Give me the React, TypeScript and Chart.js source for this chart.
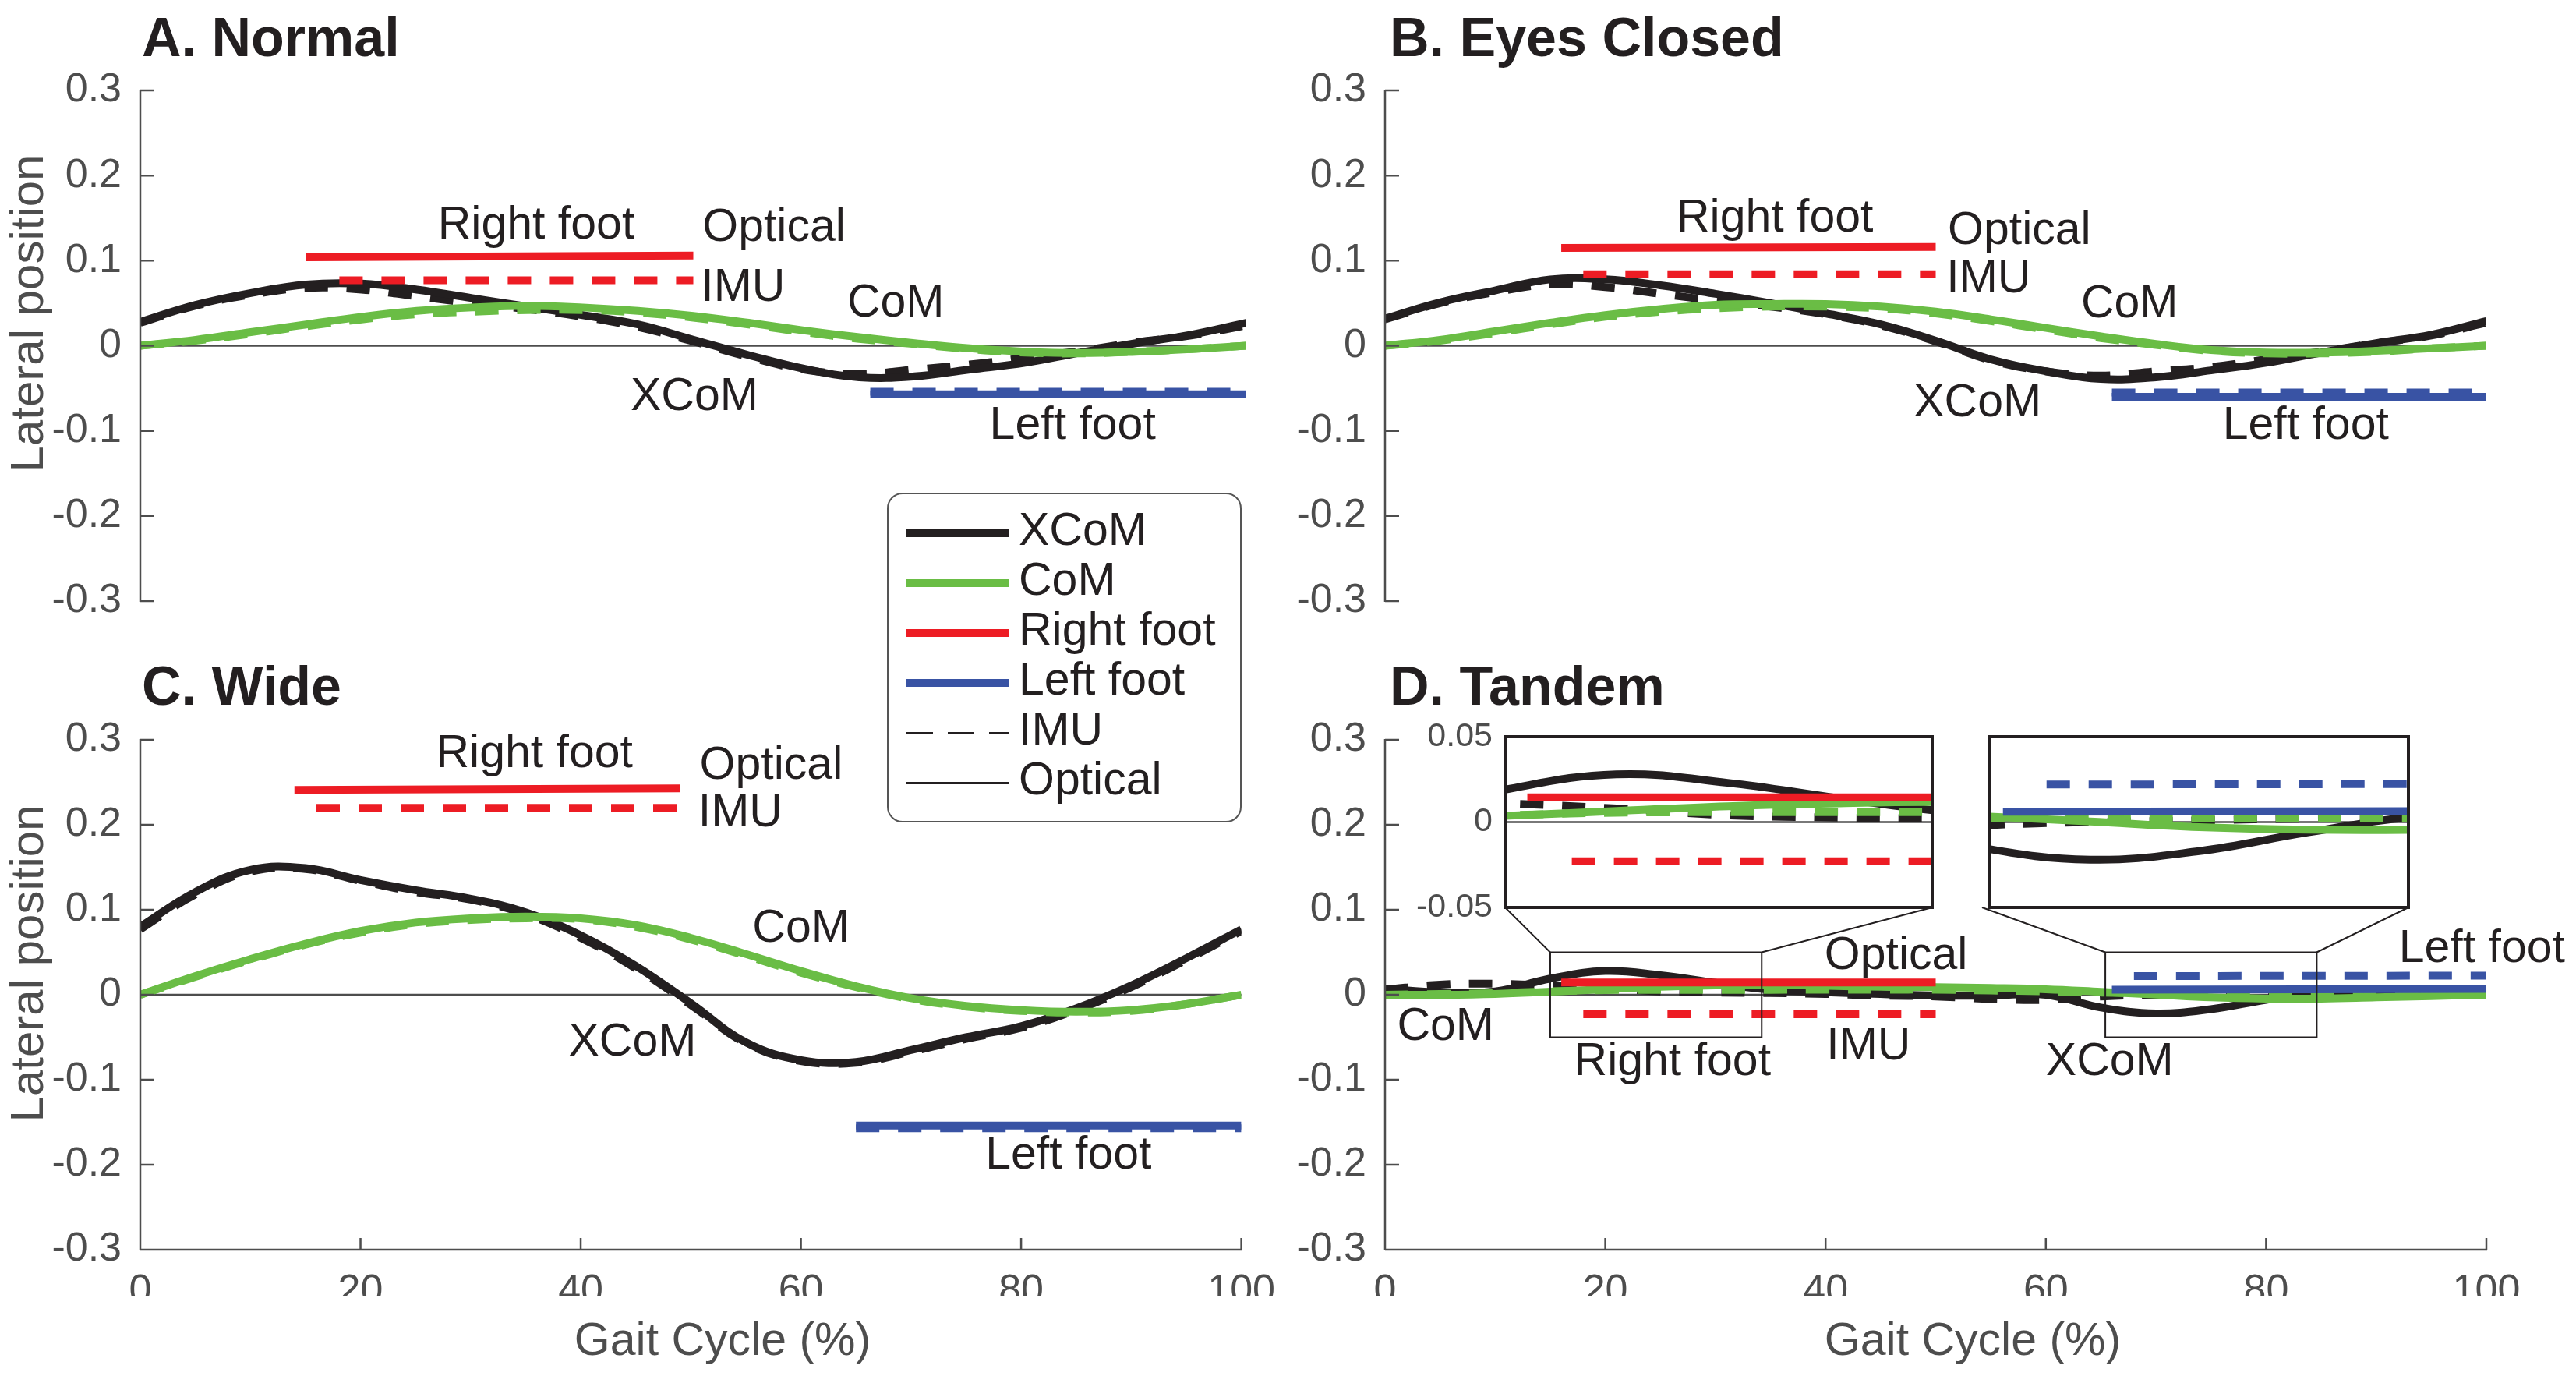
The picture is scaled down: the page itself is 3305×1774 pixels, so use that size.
import React, { useEffect, useRef } from 'react';
import { Chart, registerables } from 'chart.js';

Chart.register(...registerables);

const FONT = '"Liberation Sans", Arial, Helvetica, sans-serif';
const BLACK = '#231f20';
const GREEN = '#6abd45';
const RED = '#ed1c24';
const BLUE = '#3953a4';
const AXIS = '#4d4d4d';
const LINE_W = 10;
const DASH = [30, 24];

// ---- data ----
const gaitPct = [0, 5, 10, 15, 20, 25, 30, 35, 40, 45, 50, 55, 60, 65, 70, 75, 80, 85, 90, 95, 100];

// A. Normal
const xcomOpticalA = [0.028, 0.048, 0.062, 0.072, 0.073, 0.066, 0.056, 0.046, 0.036, 0.025, 0.007, -0.011, -0.027, -0.037, -0.036, -0.028, -0.020, -0.008, 0.003, 0.013, 0.027];
const xcomImuA = [0.027, 0.047, 0.060, 0.068, 0.066, 0.058, 0.050, 0.043, 0.034, 0.022, 0.005, -0.013, -0.028, -0.033, -0.028, -0.022, -0.014, -0.006, 0.004, 0.012, 0.024];
const comOpticalA = [0, 0.007, 0.016, 0.025, 0.034, 0.041, 0.045, 0.047, 0.045, 0.041, 0.035, 0.027, 0.018, 0.010, 0.003, -0.003, -0.007, -0.0085, -0.007, -0.004, 0];
const comImuA = [0, 0.006, 0.014, 0.023, 0.031, 0.037, 0.040, 0.042, 0.042, 0.039, 0.033, 0.025, 0.016, 0.008, 0.002, -0.004, -0.008, -0.009, -0.007, -0.004, 0];
const rightFootOpticalA = [[15, 0.104], [50, 0.106]];
const rightFootImuA = [[18, 0.077], [50, 0.077]];
const leftFootOpticalA = [[66, -0.057], [100, -0.057]];
const leftFootImuA = [[66, -0.054], [100, -0.054]];

// B. Eyes Closed
const xcomOpticalB = [0.032, 0.051, 0.065, 0.078, 0.078, 0.071, 0.061, 0.050, 0.038, 0.025, 0.006, -0.016, -0.030, -0.039, -0.037, -0.029, -0.020, -0.008, 0.003, 0.013, 0.029];
const xcomImuB = [0.031, 0.050, 0.063, 0.072, 0.069, 0.061, 0.053, 0.046, 0.037, 0.024, 0.005, -0.017, -0.030, -0.035, -0.030, -0.025, -0.016, -0.007, 0.003, 0.012, 0.027];
const comOpticalB = [0, 0.007, 0.017, 0.027, 0.036, 0.043, 0.048, 0.049, 0.049, 0.046, 0.040, 0.031, 0.021, 0.011, 0.002, -0.005, -0.008, -0.008, -0.006, -0.003, 0];
const comImuB = [0, 0.006, 0.015, 0.025, 0.034, 0.040, 0.044, 0.046, 0.046, 0.044, 0.038, 0.029, 0.019, 0.009, 0.001, -0.006, -0.009, -0.009, -0.007, -0.003, 0];
const rightFootOpticalB = [[16, 0.115], [50, 0.116]];
const rightFootImuB = [[18, 0.084], [50, 0.084]];
const leftFootOpticalB = [[66, -0.060], [100, -0.060]];
const leftFootImuB = [[66, -0.055], [100, -0.055]];

// C. Wide
const xcomOpticalC = [0.080, 0.121, 0.147, 0.149, 0.135, 0.123, 0.113, 0.097, 0.070, 0.034, -0.010, -0.056, -0.077, -0.079, -0.065, -0.050, -0.037, -0.016, 0.011, 0.043, 0.077];
const xcomImuC = [0.077, 0.118, 0.145, 0.148, 0.134, 0.121, 0.112, 0.095, 0.067, 0.031, -0.012, -0.057, -0.078, -0.080, -0.067, -0.052, -0.039, -0.018, 0.009, 0.041, 0.075];
const comOpticalC = [0, 0.022, 0.042, 0.060, 0.075, 0.085, 0.090, 0.092, 0.090, 0.082, 0.067, 0.048, 0.028, 0.010, -0.004, -0.013, -0.018, -0.020, -0.018, -0.011, 0];
const comImuC = [0, 0.021, 0.041, 0.059, 0.073, 0.083, 0.088, 0.090, 0.089, 0.080, 0.065, 0.046, 0.026, 0.009, -0.005, -0.014, -0.019, -0.021, -0.019, -0.011, 0];
const rightFootOpticalC = [[14, 0.241], [49, 0.243]];
const rightFootImuC = [[16, 0.220], [50, 0.220]];
const leftFootOpticalC = [[65, -0.154], [100, -0.154]];
const leftFootImuC = [[65, -0.157], [100, -0.157]];

// D. Tandem
const xcomOpticalD = [0.007, 0.003, 0.004, 0.019, 0.028, 0.023, 0.014, 0.006, 0.003, 0.001, -0.001, -0.001, 0.000, -0.015, -0.022, -0.017, -0.006, 0.003, 0.003, 0.002, 0.002];
const xcomImuD = [0.006, 0.012, 0.013, 0.011, 0.008, 0.004, 0.0026, 0.002, 0.001, -0.001, -0.002, -0.005, -0.006, -0.002, 0.000, 0.001, 0.002, 0.002, 0.002, 0.002, 0.002];
const comOpticalD = [0, 0, 0.001, 0.0036, 0.0065, 0.0093, 0.011, 0.0117, 0.0105, 0.0095, 0.009, 0.008, 0.0065, 0.0035, 0.0003, -0.003, -0.0045, -0.0045, -0.003, -0.0015, 0];
const comImuD = [0, 0.001, 0.002, 0.004, 0.0055, 0.0058, 0.0058, 0.0058, 0.006, 0.006, 0.006, 0.005, 0.004, 0.0025, 0.002, 0.002, 0.002, 0.002, 0.001, 0.0005, 0];
const rightFootOpticalD = [[16, 0.0145], [50, 0.0145]];
const rightFootImuD = [[18, -0.023], [50, -0.023]];
const leftFootOpticalD = [[66, 0.006], [100, 0.0068]];
const leftFootImuD = [[68, 0.022], [100, 0.0225]];

// zoomed ranges of the two insets in panel D (gait %, lateral position)
const insetRangesX = [[15, 34.2], [65.4, 84.6]];
const insetRangeY = [-0.05, 0.05];

// ---- layout ----
type Box = { left: number; top: number; right: number; bottom: number };
type Rect = { left: number; top: number; width: number; height: number };
type Label = { text: string; x: number; y: number };
type Series = {
  xcomOpt: number[]; xcomImu: number[]; comOpt: number[]; comImu: number[];
  rfOpt: number[][]; rfImu: number[][]; lfOpt: number[][]; lfImu: number[][];
};
type PanelSpec = {
  id: string; canvas: Rect; area: Box; title: string; titleAt: [number, number];
  ylabelAt?: [number, number]; xlabelAt?: [number, number]; showX: boolean;
  series: Series; labels: Label[]; zoomBoxes?: boolean;
};

const insetBoxes: Box[] = [
  { left: 1931, top: 945, right: 2479, bottom: 1164 },
  { left: 2543, top: 945, right: 3090, bottom: 1164 },
];

const panels: PanelSpec[] = [
  {
    id: 'A', canvas: { left: 0, top: 0, width: 1650, height: 860 },
    area: { left: 180, top: 116, right: 1599, bottom: 771 },
    title: 'A. Normal', titleAt: [182, 53], ylabelAt: [38, 402], showX: false,
    series: { xcomOpt: xcomOpticalA, xcomImu: xcomImuA, comOpt: comOpticalA, comImu: comImuA, rfOpt: rightFootOpticalA, rfImu: rightFootImuA, lfOpt: leftFootOpticalA, lfImu: leftFootImuA },
    labels: [
      { text: 'Right foot', x: 35.8, y: 0.141 }, { text: 'Optical', x: 57.3, y: 0.138 },
      { text: 'IMU', x: 54.5, y: 0.068 }, { text: 'CoM', x: 68.3, y: 0.049 },
      { text: 'XCoM', x: 50.1, y: -0.061 }, { text: 'Left foot', x: 84.3, y: -0.095 },
    ],
  },
  {
    id: 'B', canvas: { left: 1650, top: 0, width: 1655, height: 860 },
    area: { left: 1777, top: 116, right: 3190, bottom: 771 },
    title: 'B. Eyes Closed', titleAt: [1783, 53], showX: false,
    series: { xcomOpt: xcomOpticalB, xcomImu: xcomImuB, comOpt: comOpticalB, comImu: comImuB, rfOpt: rightFootOpticalB, rfImu: rightFootImuB, lfOpt: leftFootOpticalB, lfImu: leftFootImuB },
    labels: [
      { text: 'Right foot', x: 35.4, y: 0.149 }, { text: 'Optical', x: 57.6, y: 0.134 },
      { text: 'IMU', x: 54.8, y: 0.078 }, { text: 'CoM', x: 67.6, y: 0.048 },
      { text: 'XCoM', x: 53.8, y: -0.068 }, { text: 'Left foot', x: 83.6, y: -0.095 },
    ],
  },
  {
    id: 'C', canvas: { left: 0, top: 800, width: 1650, height: 974 },
    area: { left: 180, top: 949, right: 1599, bottom: 1603 },
    title: 'C. Wide', titleAt: [182, 885], ylabelAt: [38, 1236], xlabelAt: [927, 1722], showX: true,
    series: { xcomOpt: xcomOpticalC, xcomImu: xcomImuC, comOpt: comOpticalC, comImu: comImuC, rfOpt: rightFootOpticalC, rfImu: rightFootImuC, lfOpt: leftFootOpticalC, lfImu: leftFootImuC },
    labels: [
      { text: 'Right foot', x: 35.8, y: 0.283 }, { text: 'Optical', x: 57.3, y: 0.269 },
      { text: 'IMU', x: 54.5, y: 0.213 }, { text: 'CoM', x: 60.0, y: 0.077 },
      { text: 'XCoM', x: 44.7, y: -0.057 }, { text: 'Left foot', x: 84.3, y: -0.190 },
    ],
  },
  {
    id: 'D', canvas: { left: 1650, top: 800, width: 1655, height: 974 },
    area: { left: 1777, top: 949, right: 3190, bottom: 1603 },
    title: 'D. Tandem', titleAt: [1783, 885], xlabelAt: [2531, 1722], showX: true, zoomBoxes: true,
    series: { xcomOpt: xcomOpticalD, xcomImu: xcomImuD, comOpt: comOpticalD, comImu: comImuD, rfOpt: rightFootOpticalD, rfImu: rightFootImuD, lfOpt: leftFootOpticalD, lfImu: leftFootImuD },
    labels: [
      { text: 'CoM', x: 5.5, y: -0.0385 }, { text: 'Right foot', x: 26.1, y: -0.080 },
      { text: 'IMU', x: 43.9, y: -0.061 }, { text: 'Optical', x: 46.4, y: 0.045 },
      { text: 'XCoM', x: 65.8, y: -0.080 }, { text: 'Left foot', x: 99.6, y: 0.053 },
    ],
  },
];

const insetCanvases: Rect[] = [
  { left: 1800, top: 900, width: 690, height: 300 },
  { left: 2533, top: 934, width: 567, height: 240 },
];

const legendItems = [
  { label: 'XCoM', color: BLACK, thick: true, dashed: false },
  { label: 'CoM', color: GREEN, thick: true, dashed: false },
  { label: 'Right foot', color: RED, thick: true, dashed: false },
  { label: 'Left foot', color: BLUE, thick: true, dashed: false },
  { label: 'IMU', color: BLACK, thick: false, dashed: true },
  { label: 'Optical', color: BLACK, thick: false, dashed: false },
];

// ---- datasets ----
function curve(vals: number[], color: string, dashed: boolean, label: string) {
  return {
    label, data: gaitPct.map((x, i) => ({ x, y: vals[i] })),
    borderColor: color, backgroundColor: color, borderWidth: LINE_W,
    borderDash: dashed ? DASH : [], pointRadius: 0, pointHoverRadius: 0,
    tension: 0.4, fill: false,
  } as any;
}
function seg(pts: number[][], color: string, dashed: boolean, label: string) {
  return {
    label, data: pts.map(([x, y]) => ({ x, y })),
    borderColor: color, backgroundColor: color, borderWidth: LINE_W,
    borderDash: dashed ? DASH : [], pointRadius: 0, pointHoverRadius: 0,
    tension: 0, fill: false,
  } as any;
}
function datasetsFor(s: Series, clip?: number) {
  const list = [
    seg(s.rfOpt, RED, false, 'Right foot Optical'),
    seg(s.rfImu, RED, true, 'Right foot IMU'),
    seg(s.lfOpt, BLUE, false, 'Left foot Optical'),
    seg(s.lfImu, BLUE, true, 'Left foot IMU'),
    curve(s.comOpt, GREEN, false, 'CoM Optical'),
    curve(s.comImu, GREEN, true, 'CoM IMU'),
    curve(s.xcomOpt, BLACK, false, 'XCoM Optical'),
    curve(s.xcomImu, BLACK, true, 'XCoM IMU'),
  ];
  if (clip !== undefined) list.forEach((d) => { d.clip = clip; });
  return list;
}

const fmtTick = (v: any) => {
  const n = Math.round(Number(v) * 1000) / 1000;
  return n === 0 ? '0' : String(n);
};

function mainConfig(p: PanelSpec) {
  const cl = p.canvas.left, ct = p.canvas.top;
  const a = { left: p.area.left - cl, top: p.area.top - ct, right: p.area.right - cl, bottom: p.area.bottom - ct };
  const xAxisH = 60;
  const decor = {
    id: 'decor' + p.id,
    beforeDatasetsDraw(chart: any) {
      const { ctx } = chart;
      const x = chart.scales.x, y = chart.scales.y;
      ctx.save();
      ctx.strokeStyle = AXIS;
      ctx.lineWidth = 2.5;
      ctx.beginPath();
      ctx.moveTo(x.getPixelForValue(0), y.getPixelForValue(0));
      ctx.lineTo(x.getPixelForValue(100), y.getPixelForValue(0));
      ctx.stroke();
      ctx.restore();
    },
    afterDatasetsDraw(chart: any) {
      const { ctx, chartArea } = chart;
      const x = chart.scales.x, y = chart.scales.y;
      const { left, right, top, bottom } = chartArea;
      ctx.save();
      ctx.strokeStyle = AXIS;
      ctx.lineWidth = 2.5;
      ctx.beginPath();
      ctx.moveTo(left, top - 1);
      ctx.lineTo(left, bottom + 1);
      y.ticks.forEach((t: any) => {
        const py = y.getPixelForValue(t.value);
        ctx.moveTo(left, py);
        ctx.lineTo(left + 18, py);
      });
      if (p.showX) {
        ctx.moveTo(left, bottom);
        ctx.lineTo(right + 1, bottom);
        x.ticks.forEach((t: any) => {
          const px = x.getPixelForValue(t.value);
          ctx.moveTo(px, bottom);
          ctx.lineTo(px, bottom - 15);
        });
      }
      ctx.stroke();

      if (p.zoomBoxes) {
        ctx.strokeStyle = BLACK;
        ctx.lineWidth = 2;
        insetRangesX.forEach((r, i) => {
          const x0 = x.getPixelForValue(r[0]), x1 = x.getPixelForValue(r[1]);
          const y0 = y.getPixelForValue(insetRangeY[1]), y1 = y.getPixelForValue(insetRangeY[0]);
          ctx.strokeRect(x0, y0, x1 - x0, y1 - y0);
          const b = insetBoxes[i];
          ctx.beginPath();
          ctx.moveTo(x0, y0);
          ctx.lineTo(b.left - cl, b.bottom - ct);
          ctx.moveTo(x1, y0);
          ctx.lineTo(b.right - cl, b.bottom - ct);
          ctx.stroke();
        });
      }

      ctx.fillStyle = BLACK;
      ctx.font = `59px ${FONT}`;
      ctx.textAlign = 'center';
      ctx.textBaseline = 'middle';
      p.labels.forEach((l) => ctx.fillText(l.text, x.getPixelForValue(l.x), y.getPixelForValue(l.y)));

      ctx.font = `bold 70px ${FONT}`;
      ctx.textAlign = 'left';
      ctx.fillText(p.title, p.titleAt[0] - cl, p.titleAt[1] - ct);

      ctx.fillStyle = AXIS;
      if (p.xlabelAt) {
        ctx.font = `59px ${FONT}`;
        ctx.textAlign = 'center';
        ctx.fillText('Gait Cycle (%)', p.xlabelAt[0] - cl, p.xlabelAt[1] - ct);
      }
      if (p.ylabelAt) {
        ctx.translate(p.ylabelAt[0] - cl, p.ylabelAt[1] - ct);
        ctx.rotate(-Math.PI / 2);
        ctx.font = `60px ${FONT}`;
        ctx.textAlign = 'center';
        ctx.fillText('Lateral position', 0, 0);
      }
      ctx.restore();
    },
  };
  const xScale: any = {
    type: 'linear', min: 0, max: 100, display: p.showX,
    grid: { display: false }, border: { display: false },
    ticks: { stepSize: 20, font: { family: FONT, size: 52 }, color: AXIS, padding: 14, maxRotation: 0, autoSkip: false },
  };
  if (p.showX) xScale.afterFit = (s: any) => { s.height = xAxisH; };
  return {
    type: 'line',
    data: { datasets: datasetsFor(p.series) },
    options: {
      animation: false, responsive: false, devicePixelRatio: 1, events: [],
      layout: {
        padding: {
          left: 0, top: a.top, right: p.canvas.width - a.right,
          bottom: p.showX ? p.canvas.height - a.bottom - xAxisH : p.canvas.height - a.bottom,
        },
      },
      plugins: { legend: { display: false }, tooltip: { enabled: false }, title: { display: false } },
      scales: {
        x: xScale,
        y: {
          type: 'linear', min: -0.3, max: 0.3,
          grid: { display: false }, border: { display: false },
          ticks: { stepSize: 0.1, font: { family: FONT, size: 52 }, color: AXIS, padding: 16, callback: fmtTick },
          afterFit: (s: any) => { s.width = a.left; },
        },
      },
    },
    plugins: [decor],
  };
}

function insetConfig(i: number) {
  const c = insetCanvases[i];
  const b = insetBoxes[i];
  const a = { left: b.left - c.left, top: b.top - c.top, right: b.right - c.left, bottom: b.bottom - c.top };
  const showY = i === 0;
  const deco = {
    id: 'inset' + i,
    beforeDatasetsDraw(chart: any) {
      const { ctx, chartArea } = chart;
      const y = chart.scales.y;
      ctx.save();
      ctx.fillStyle = '#ffffff';
      ctx.fillRect(chartArea.left, chartArea.top, chartArea.right - chartArea.left, chartArea.bottom - chartArea.top);
      ctx.strokeStyle = AXIS;
      ctx.lineWidth = 2.5;
      ctx.beginPath();
      ctx.moveTo(chartArea.left, y.getPixelForValue(0));
      ctx.lineTo(chartArea.right, y.getPixelForValue(0));
      ctx.stroke();
      ctx.restore();
    },
    afterDatasetsDraw(chart: any) {
      const { ctx, chartArea } = chart;
      ctx.save();
      ctx.strokeStyle = BLACK;
      ctx.lineWidth = 4;
      ctx.strokeRect(chartArea.left, chartArea.top, chartArea.right - chartArea.left, chartArea.bottom - chartArea.top);
      ctx.restore();
    },
  };
  return {
    type: 'line',
    data: { datasets: datasetsFor(panels[3].series, 0) },
    options: {
      animation: false, responsive: false, devicePixelRatio: 1, events: [],
      layout: { padding: { left: showY ? 0 : a.left, top: a.top, right: c.width - a.right, bottom: c.height - a.bottom } },
      plugins: { legend: { display: false }, tooltip: { enabled: false }, title: { display: false } },
      scales: {
        x: { type: 'linear', min: insetRangesX[i][0], max: insetRangesX[i][1], display: false },
        y: {
          type: 'linear', min: insetRangeY[0], max: insetRangeY[1], display: showY,
          grid: { display: false }, border: { display: false },
          ticks: { stepSize: 0.05, font: { family: FONT, size: 43 }, color: AXIS, padding: 8, callback: fmtTick },
          afterFit: (s: any) => { s.width = a.left; },
        },
      },
    },
    plugins: [deco],
  };
}

function ChartCanvas({ rect, make }: { rect: Rect; make: () => any }) {
  const ref = useRef<HTMLCanvasElement>(null);
  useEffect(() => {
    const chart = new Chart(ref.current as HTMLCanvasElement, make());
    return () => chart.destroy();
  }, []);
  return (
    <canvas
      ref={ref}
      width={rect.width}
      height={rect.height}
      style={{ position: 'absolute', left: rect.left, top: rect.top, width: rect.width, height: rect.height }}
    />
  );
}

function Legend() {
  const box = { left: 1138, top: 632, width: 455, height: 423 };
  const rowY0 = 684, rowStep = 64;
  return (
    <div style={{ position: 'absolute', left: 0, top: 0 }}>
      <div style={{
        position: 'absolute', left: box.left, top: box.top, width: box.width, height: box.height,
        boxSizing: 'border-box', border: '2.5px solid #555555', borderRadius: 20, background: '#ffffff',
      }} />
      {legendItems.map((it, i) => {
        const cy = rowY0 + i * rowStep;
        const h = it.thick ? 10 : 3;
        const bg = it.dashed
          ? `repeating-linear-gradient(to right, ${it.color} 0px, ${it.color} 34px, transparent 34px, transparent 53px)`
          : it.color;
        return (
          <React.Fragment key={it.label}>
            <div style={{ position: 'absolute', left: 1163, top: cy - h / 2, width: 131, height: h, background: bg }} />
            <div style={{
              position: 'absolute', left: 1307, top: cy - 5 - 29.5, height: 59, lineHeight: '59px',
              fontFamily: FONT, fontSize: 59, color: BLACK, whiteSpace: 'nowrap',
            }}>{it.label}</div>
          </React.Fragment>
        );
      })}
    </div>
  );
}

export default function App() {
  return (
    <div style={{ position: 'absolute', left: 0, top: 0, width: 3305, height: 1774, background: '#ffffff', overflow: 'hidden' }}>
      {panels.map((p) => (
        <ChartCanvas key={p.id} rect={p.canvas} make={() => mainConfig(p)} />
      ))}
      {insetCanvases.map((r, i) => (
        <ChartCanvas key={'inset' + i} rect={r} make={() => insetConfig(i)} />
      ))}
      <Legend />
    </div>
  );
}
